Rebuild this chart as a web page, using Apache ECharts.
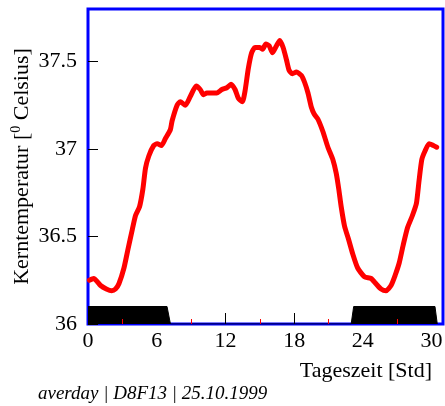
<!DOCTYPE html>
<html>
<head>
<meta charset="utf-8">
<script src="https://cdn.jsdelivr.net/npm/echarts@6/dist/echarts.min.js"></script>
<style>
  html, body { margin: 0; padding: 0; background: #fff; }
  #chart { width: 445px; height: 406px; }
</style>
</head>
<body>
<div id="chart"></div>
<script>
// Mean daily core temperature curve (hours of day vs. °C)
const hours = [0.12, 0.5, 1.1, 1.6, 2.07, 2.4, 2.7, 3.14, 3.5, 3.87, 4.15, 4.5, 4.79, 5.02, 5.31, 5.74, 6.04, 6.41, 6.76, 7.19,
  7.34, 7.78, 8.06, 8.5, 8.93, 9.45, 9.8, 10.09, 10.38, 10.82, 11.25, 11.69, 12.12, 12.49, 12.84, 13.13, 13.48, 13.71, 14.0, 14.29,
  14.58, 15.01, 15.25, 15.53, 15.82, 16.11, 16.46, 16.75, 17.04, 17.33, 17.56, 17.85, 18.2, 18.64, 18.92, 19.21, 19.5, 19.75, 20.08, 20.51,
  20.95, 21.38, 21.68, 21.9, 22.11, 22.4, 22.77, 23.12, 23.55, 24.14, 24.72, 25.15, 25.59, 26.02, 26.46, 26.83, 27.18, 27.52, 27.9, 28.33,
  28.68, 28.91, 29.15, 29.44, 29.78, 30.16, 30.45];
const temps = [36.25, 36.26, 36.22, 36.20, 36.19, 36.20, 36.23, 36.32, 36.43, 36.54, 36.62, 36.67, 36.77, 36.89, 36.96, 37.02, 37.03, 37.02, 37.06, 37.11,
  37.16, 37.25, 37.27, 37.25, 37.30, 37.36, 37.34, 37.31, 37.32, 37.32, 37.32, 37.34, 37.35, 37.37, 37.34, 37.29, 37.27, 37.33, 37.46, 37.55,
  37.58, 37.58, 37.57, 37.60, 37.59, 37.55, 37.59, 37.62, 37.58, 37.51, 37.45, 37.43, 37.44, 37.42, 37.38, 37.32, 37.24, 37.20, 37.17, 37.10,
  37.01, 36.94, 36.86, 36.77, 36.67, 36.56, 36.48, 36.40, 36.32, 36.27, 36.26, 36.23, 36.20, 36.19, 36.22, 36.28, 36.35, 36.45, 36.55, 36.62,
  36.69, 36.82, 36.94, 36.99, 37.03, 37.02, 37.01];

// Dark phase indicator along the bottom of the plot
const darkHours = [0, 6.9, 7.2, 22.98, 23.2, 30.3, 30.5];
const darkLevel = [36.1, 36.1, 36.0, 36.0, 36.1, 36.1, 36.0];

// Axis ticks
const xMajorTicks = [0, 6, 12, 18, 24, 30];
const xMinorTicks = [3, 9, 15, 21, 27];
const yTicks = [36, 36.5, 37, 37.5];

const serif = '"Liberation Serif", "DejaVu Serif", serif';

const chart = echarts.init(document.getElementById('chart'), null, { renderer: 'canvas' });

chart.setOption({
  animation: false,
  backgroundColor: '#ffffff',
  title: {
    text: 'averday | D8F13 | 25.10.1999',
    left: 38,
    top: 384,
    padding: 0,
    textStyle: { fontFamily: serif, fontStyle: 'italic', fontWeight: 'normal', fontSize: 19, color: '#000' }
  },
  grid: {
    left: 88, right: 2, top: 9, bottom: 82,
    containLabel: false,
    outerBoundsMode: 'none',
    show: true,
    borderColor: '#0000ff',
    borderWidth: 3,
    backgroundColor: 'transparent'
  },
  xAxis: [{
    type: 'value',
    min: 0, max: 31,
    z: 5,
    name: 'Tageszeit [Std]',
    nameLocation: 'end',
    nameGap: -11,
    nameMoveOverlap: false,
    nameTextStyle: { fontFamily: serif, fontSize: 22, color: '#000', align: 'right', verticalAlign: 'top', padding: [36, 0, 0, 0] },
    axisLine: { show: false },
    splitLine: { show: false },
    axisTick: { show: true, inside: true, length: 11, customValues: xMajorTicks, lineStyle: { color: '#000', width: 1 } },
    axisLabel: { customValues: xMajorTicks, margin: 6, fontFamily: serif, fontSize: 22, color: '#000' }
  }, {
    type: 'value',
    min: 0, max: 31,
    z: 5,
    position: 'bottom',
    axisLine: { show: false },
    splitLine: { show: false },
    axisLabel: { show: false },
    axisTick: { show: true, inside: true, length: 5, customValues: xMinorTicks, lineStyle: { color: '#ff0000', width: 1 } }
  }],
  yAxis: {
    type: 'value',
    min: 36, max: 37.8,
    z: 5,
    name: 'Kerntemperatur [{sup|0} Celsius]',
    nameLocation: 'middle',
    nameRotate: 90,
    nameGap: 53,
    nameMoveOverlap: false,
    nameTextStyle: {
      fontFamily: serif, fontSize: 22, color: '#000', lineHeight: 26,
      rich: { sup: { fontFamily: serif, fontSize: 14, color: '#000', verticalAlign: 'top', lineHeight: 26 } }
    },
    axisLine: { show: false },
    splitLine: { show: false },
    axisTick: { show: true, inside: true, length: 10, customValues: yTicks, lineStyle: { color: '#000', width: 1 } },
    axisLabel: { customValues: yTicks, margin: 11, fontFamily: serif, fontSize: 22, color: '#000' }
  },
  series: [{
    name: 'dark',
    type: 'line',
    z: 2,
    xAxisIndex: 0,
    symbol: 'none',
    data: darkHours.map((h, i) => [h, darkLevel[i]]),
    lineStyle: { color: '#000', width: 1 },
    areaStyle: { color: '#000', opacity: 1, origin: 'start' }
  }, {
    name: 'temperature',
    type: 'line',
    z: 3,
    xAxisIndex: 0,
    symbol: 'none',
    smooth: 0.2,
    data: hours.map((h, i) => [h, temps[i]]),
    lineStyle: { color: '#ff0000', width: 5, cap: 'round', join: 'round' }
  }]
});
</script>
</body>
</html>
